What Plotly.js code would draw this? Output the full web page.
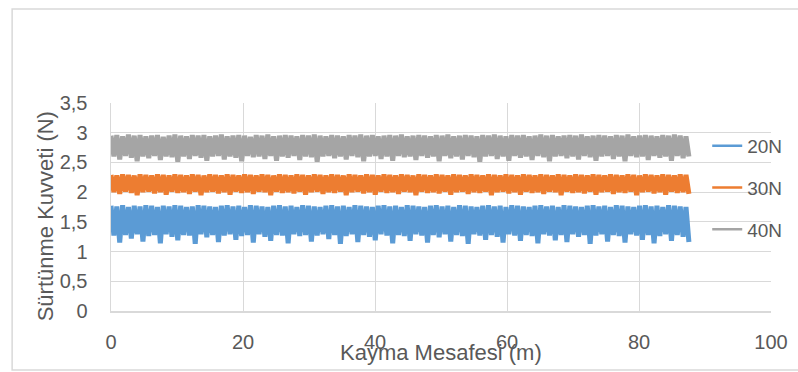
<!DOCTYPE html>
<html>
<head>
<meta charset="utf-8">
<script src="https://cdn.plot.ly/plotly-3.0.1.min.js"></script>
<style>
html,body{margin:0;padding:0;background:#fff;}
#chart{width:798px;height:372px;}
</style>
</head>
<body>
<div id="chart"></div>
<script>
// Sliding distance sampling (m)
const distanceStart = 0;
const distanceStep = 0.44;

const seriesNames = ["20N", "30N", "40N"];
const seriesColors = ["#5B9BD5", "#ED7D31", "#A5A5A5"];

// Friction force (N) - 20N load
const force20N = [
1.77,1.27,1.76,1.15,1.78,1.28,1.75,1.22,1.77,1.29,
1.76,1.17,1.78,1.26,1.77,1.28,1.75,1.14,1.77,1.29,
1.76,1.25,1.78,1.19,1.77,1.28,1.75,1.27,1.76,1.13,
1.78,1.29,1.77,1.24,1.76,1.28,1.75,1.16,1.77,1.27,
1.78,1.29,1.76,1.20,1.77,1.26,1.75,1.28,1.78,1.15,
1.77,1.29,1.76,1.25,1.75,1.18,1.77,1.28,1.78,1.27,
1.76,1.14,1.77,1.29,1.75,1.26,1.78,1.28,1.77,1.17,
1.76,1.27,1.75,1.29,1.77,1.21,1.78,1.28,1.76,1.13,
1.77,1.26,1.75,1.29,1.78,1.16,1.77,1.28,1.76,1.25,
1.75,1.19,1.77,1.29,1.78,1.27,1.76,1.14,1.77,1.28,
1.75,1.26,1.78,1.18,1.77,1.29,1.76,1.27,1.75,1.15,
1.77,1.28,1.78,1.24,1.76,1.29,1.77,1.17,1.75,1.28,
1.78,1.26,1.77,1.13,1.76,1.29,1.75,1.27,1.77,1.20,
1.78,1.28,1.76,1.25,1.77,1.15,1.75,1.29,1.78,1.27,
1.77,1.18,1.76,1.28,1.75,1.26,1.77,1.14,1.78,1.29,
1.76,1.27,1.77,1.19,1.75,1.28,1.78,1.16,1.77,1.29,
1.76,1.25,1.75,1.28,1.77,1.13,1.78,1.27,1.76,1.29,
1.77,1.17,1.75,1.28,1.78,1.26,1.77,1.15,1.76,1.29,
1.75,1.27,1.77,1.20,1.78,1.28,1.76,1.14,1.77,1.26,
1.75,1.29,1.78,1.18,1.77,1.28,1.76,1.25,1.75,1.16
];

// Friction force (N) - 30N load
const force30N = [
2.29,2.00,2.28,1.97,2.30,2.01,2.29,1.99,2.28,1.95,
2.30,2.00,2.29,2.01,2.28,1.98,2.30,2.00,2.29,1.96,
2.28,2.01,2.30,1.99,2.29,2.00,2.28,1.97,2.30,2.01,
2.29,1.95,2.28,2.00,2.30,2.01,2.29,1.98,2.28,2.00,
2.30,1.96,2.29,2.01,2.28,1.99,2.30,2.00,2.29,1.97,
2.28,2.01,2.30,2.00,2.29,1.95,2.28,2.01,2.30,1.99,
2.29,2.00,2.28,1.98,2.30,2.01,2.29,1.96,2.28,2.00,
2.30,2.01,2.29,1.97,2.28,2.00,2.30,1.99,2.29,2.01,
2.28,1.95,2.30,2.00,2.29,2.01,2.28,1.98,2.30,2.00,
2.29,1.96,2.28,2.01,2.30,1.99,2.29,2.00,2.28,1.97,
2.30,2.01,2.29,2.00,2.28,1.95,2.30,2.01,2.29,1.99,
2.28,2.00,2.30,1.98,2.29,2.01,2.28,1.96,2.30,2.00,
2.29,2.01,2.28,1.97,2.30,2.00,2.29,1.99,2.28,2.01,
2.30,1.95,2.29,2.00,2.28,2.01,2.30,1.98,2.29,2.00,
2.28,1.96,2.30,2.01,2.29,1.99,2.28,2.00,2.30,1.97,
2.29,2.01,2.28,2.00,2.30,1.95,2.29,2.01,2.28,1.99,
2.30,2.00,2.29,1.98,2.28,2.01,2.30,1.96,2.29,2.00,
2.28,2.01,2.30,1.97,2.29,2.00,2.28,1.99,2.30,2.01,
2.29,1.95,2.28,2.00,2.30,2.01,2.29,1.98,2.28,2.00,
2.30,1.96,2.29,2.01,2.28,1.99,2.30,2.00,2.29,1.97
];

// Friction force (N) - 40N load
const force40N = [
2.95,2.60,2.96,2.55,2.94,2.61,2.97,2.58,2.95,2.52,
2.96,2.60,2.94,2.57,2.95,2.61,2.96,2.54,2.93,2.60,
2.95,2.59,2.97,2.51,2.95,2.60,2.94,2.56,2.96,2.61,
2.95,2.58,2.96,2.53,2.94,2.60,2.95,2.61,2.97,2.55,
2.94,2.60,2.95,2.58,2.96,2.52,2.95,2.61,2.93,2.59,
2.96,2.60,2.95,2.56,2.97,2.61,2.94,2.53,2.95,2.60,
2.96,2.58,2.95,2.61,2.94,2.54,2.96,2.60,2.95,2.59,
2.97,2.51,2.95,2.60,2.94,2.61,2.96,2.57,2.95,2.60,
2.94,2.55,2.96,2.61,2.95,2.59,2.97,2.52,2.95,2.60,
2.96,2.61,2.94,2.56,2.95,2.60,2.96,2.53,2.95,2.61,
2.97,2.59,2.94,2.60,2.95,2.54,2.96,2.61,2.95,2.58,
2.94,2.60,2.96,2.52,2.95,2.61,2.97,2.57,2.94,2.60,
2.95,2.55,2.96,2.61,2.95,2.59,2.94,2.51,2.96,2.60,
2.95,2.61,2.97,2.56,2.95,2.60,2.94,2.53,2.96,2.61,
2.95,2.58,2.96,2.60,2.94,2.54,2.95,2.61,2.97,2.59,
2.95,2.52,2.96,2.60,2.94,2.61,2.95,2.57,2.96,2.60,
2.95,2.55,2.97,2.61,2.94,2.59,2.95,2.53,2.96,2.60,
2.95,2.61,2.94,2.56,2.96,2.60,2.95,2.52,2.97,2.61,
2.94,2.59,2.95,2.60,2.96,2.54,2.95,2.61,2.94,2.58,
2.96,2.60,2.95,2.53,2.97,2.61,2.95,2.57,2.94,2.60
];

const xTickVals = [0, 20, 40, 60, 80, 100];
const yTickVals = [0, 0.5, 1, 1.5, 2, 2.5, 3, 3.5];
const xTitle = "Kayma Mesafesi (m)";
const yTitle = "Sürtünme Kuvveti (N)";

const allSeries = [force20N, force30N, force40N];
const dataTraces = allSeries.map((vals, i) => ({
  type: "scatter",
  mode: "lines",
  name: seriesNames[i],
  legendgroup: seriesNames[i],
  showlegend: false,
  x0: distanceStart,
  dx: distanceStep,
  y: vals,
  line: {color: seriesColors[i], width: 5},
  hoverinfo: "skip"
}));
// legend entries (thin line keys, like the original)
const legendTraces = seriesNames.map((nm, i) => ({
  type: "scatter",
  mode: "lines",
  name: nm,
  legendgroup: nm,
  showlegend: true,
  x: [null],
  y: [null],
  line: {color: seriesColors[i], width: 2.5},
  hoverinfo: "skip"
}));

const FONT = "Liberation Sans, Arial, sans-serif";
const TXT = "#595959";
const GRID = "#D9D9D9";

const layout = {
  width: 798,
  height: 372,
  margin: {l: 111, r: 26, t: 103, b: 61, pad: 0},
  paper_bgcolor: "#ffffff",
  plot_bgcolor: "#ffffff",
  separators: ",.",
  font: {family: FONT, color: TXT, size: 20},
  showlegend: true,
  legend: {
    x: 0.902, y: 0.885, xanchor: "left", yanchor: "top",
    bgcolor: "rgba(0,0,0,0)",
    font: {family: FONT, color: TXT, size: 19},
    tracegroupgap: 14,
    traceorder: "grouped"
  },
  xaxis: {
    range: [0, 100],
    tickvals: xTickVals,
    showgrid: true, gridcolor: GRID, gridwidth: 1,
    showline: true, linecolor: GRID, linewidth: 1.5,
    zeroline: false,
    ticks: "",
    ticklabelstandoff: 12,
    tickfont: {family: FONT, color: TXT, size: 20},
    fixedrange: true
  },
  yaxis: {
    range: [0, 3.5],
    tickvals: yTickVals,
    showgrid: true, gridcolor: GRID, gridwidth: 1,
    showline: true, linecolor: GRID, linewidth: 1.5,
    zeroline: false,
    ticks: "",
    ticklabelstandoff: 18,
    tickfont: {family: FONT, color: TXT, size: 20},
    fixedrange: true
  },
  annotations: [
    {text: xTitle, xref: "paper", yref: "paper", x: 0.5, y: -0.2, xanchor: "center", yanchor: "middle",
     showarrow: false, font: {family: FONT, color: TXT, size: 22}},
    {text: yTitle, xref: "paper", yref: "paper", x: -0.1, y: 0.455, xanchor: "center", yanchor: "middle",
     textangle: -90, showarrow: false, font: {family: FONT, color: TXT, size: 22}}
  ],
  shapes: [
    {type: "rect", xref: "paper", yref: "paper", x0: -0.1498, x1: 1.05, y0: -0.284, y1: 1.452,
     line: {color: GRID, width: 1.5}, fillcolor: "rgba(0,0,0,0)", layer: "below"}
  ]
};

Plotly.newPlot("chart", dataTraces.concat(legendTraces), layout, {displayModeBar: false, staticPlot: true});
</script>
</body>
</html>
